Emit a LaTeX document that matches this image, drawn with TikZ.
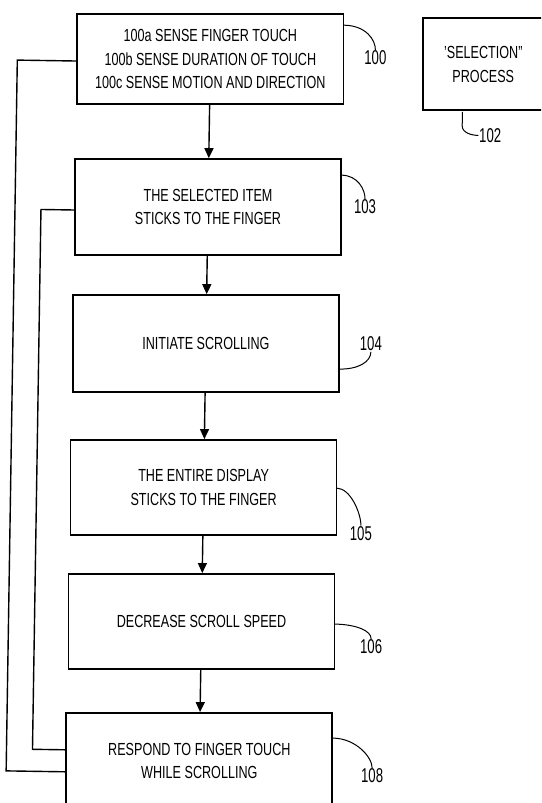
\documentclass[tikz,border=0pt]{standalone}
\usepackage{fontspec}
\setmainfont[FakeStretch=0.72,Ligatures=ResetAll]{Liberation Sans}
\newfontfamily\labfont[FakeStretch=0.66]{Liberation Sans}
\usetikzlibrary{arrows.meta,calc}
\begin{document}
\begin{tikzpicture}[x=1pt,y=-1pt,
  stepbox/.style={draw,line width=1.7pt,minimum width=266pt,align=center,
    font=\fontsize{17.5}{23.5}\selectfont,inner sep=0pt},
  lab/.style={font=\labfont\fontsize{20}{22}\selectfont,inner sep=0.5pt},
  flow/.style={line width=1.4pt,-{Triangle[length=10pt,width=9pt]}},
  loop/.style={line width=1.4pt},
  lead/.style={line width=1pt}]
\useasboundingbox (0,0) rectangle (541,803);
\clip (0,0) rectangle (541,803);
\begin{scope}[rotate around={-0.9:(270,400)}]
\node[stepbox,minimum height=90pt] (b100) at (205,60) {100a SENSE FINGER TOUCH\\100b SENSE DURATION OF TOUCH\\100c SENSE MOTION AND DIRECTION};
\node[stepbox,minimum width=120pt,minimum height=92pt] (b102) at (478,61) {'SELECTION"\\PROCESS};
\node[stepbox,minimum height=96pt] (b103) at (205,208) {THE SELECTED ITEM\\STICKS TO THE FINGER};
\node[stepbox,minimum height=97pt] (b104) at (205,344.5) {INITIATE SCROLLING};
\node[stepbox,minimum height=95pt] (b105) at (205,488.5) {THE ENTIRE DISPLAY\\STICKS TO THE FINGER};
\node[stepbox,minimum height=95pt] (b106) at (205,622.5) {DECREASE SCROLL SPEED};
\node[stepbox,minimum height=96pt] (b108) at (205,762) {RESPOND TO FINGER TOUCH\\WHILE SCROLLING};

\node[lab] (n100) at (370,56) {100};
\node[lab] (n102) at (486,132) {102};
\node[lab] (n103) at (362,205.5) {103};
\node[lab] (n104) at (370,342.5) {104};
\node[lab] (n105) at (363,532) {105};
\node[lab] (n106) at (375,645) {106};
\node[lab] (n108) at (378,774) {108};

\draw[flow] (b100) -- (b103);
\draw[flow] (b103) -- (b104);
\draw[flow] (b104) -- (b105);
\draw[flow] (b105) -- (b106);
\draw[flow] (b106) -- (b108);

\coordinate (outer) at (12,775);
\coordinate (inner) at (38,753);
\draw[loop] ([yshift=-2pt]b100.west) -| (outer) |- (b108.west |- outer);
\draw[loop] ([yshift=-3pt]b103.west) -| (inner) |- (b108.west |- inner);

\draw[lead] ($(b100.north east)+(0,12)$) .. controls +(22,0) and +(0,-10) .. (n100.north);
\draw[lead] ($(b102.south west)+(40,0)$) -- ++(0,14) .. controls +(0,7) and +(-7,0) .. (n102.west);
\draw[lead] ($(b103.north east)+(0,17)$) .. controls +(16,0) and +(0,-10) .. (n103.north);
\draw[lead] ($(b104.north east)+(0,75)$) .. controls +(20,0) and +(0,10) .. (n104.south);
\draw[lead] ($(b105.north east)+(0,49)$) .. controls +(14,0) and +(0,-12) .. (n105.north);
\draw[lead] ($(b106.north east)+(0,51)$) .. controls +(22,0) and +(0,-8) .. (n106.north);
\draw[lead] ($(b108.north east)+(0,26)$) .. controls +(24,0) and +(0,-10) .. (n108.north);
\end{scope}
\end{tikzpicture}
\end{document}
